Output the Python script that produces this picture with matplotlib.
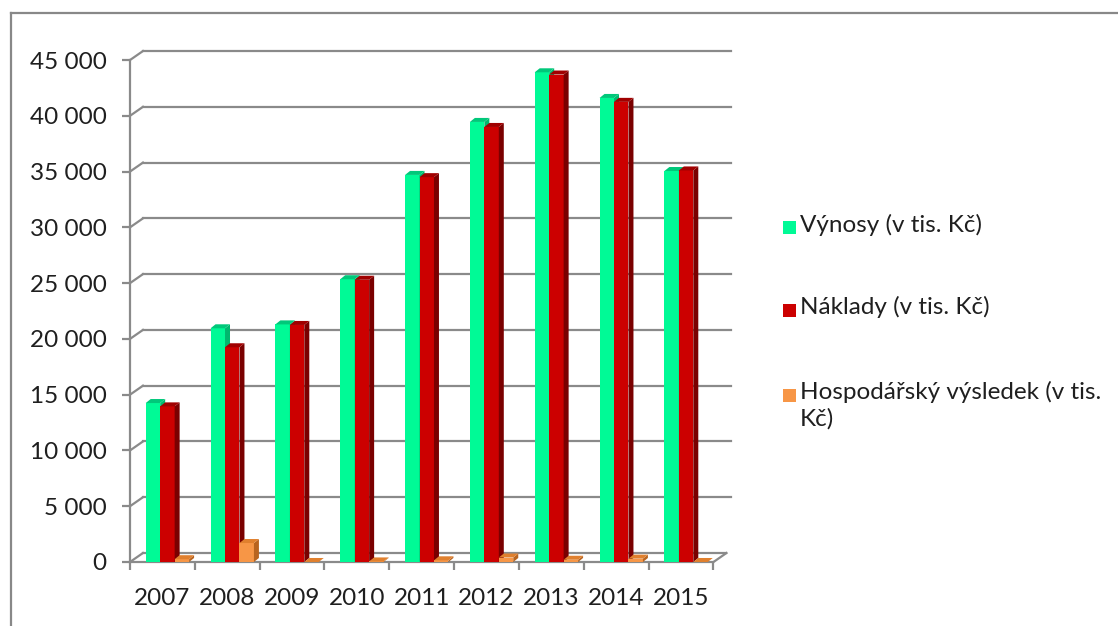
import matplotlib
matplotlib.use('Agg')
import matplotlib.pyplot as plt
import numpy as np
from matplotlib.patches import Polygon, Rectangle
from matplotlib.lines import Line2D

# data (v tis. Kč)
years = ['2007', '2008', '2009', '2010', '2011', '2012', '2013', '2014', '2015']
vynosy = [14250, 20950, 21300, 25350, 34700, 39450, 43900, 41600, 35050]
naklady = [13950, 19250, 21250, 25300, 34500, 39000, 43700, 41250, 35100]
hv = [250, 1700, 0, 50, 150, 400, 200, 300, 0]
names = ['Výnosy (v tis. Kč)', 'Náklady (v tis. Kč)', 'Hospodářský výsledek (v tis.\nKč)']
yticks = [0, 5000, 10000, 15000, 20000, 25000, 30000, 35000, 40000, 45000]
ylabels = ['0', '5 000', '10 000', '15 000', '20 000', '25 000', '30 000', '35 000', '40 000', '45 000']

face = ['#00FA96', '#CC0000', '#F79646']
side = ['#00B86E', '#7A0000', '#B8641F']
top = ['#00C87A', '#A00000', '#E0802E']

plt.rcParams['font.family'] = ['Lato', 'DejaVu Sans']
W, H = 1118, 626
fig = plt.figure(figsize=(W/100, H/100), dpi=100)
ax = fig.add_axes([130/W, 64/H, 601/W, 512/H])
ax.set_xlim(-0.5, 8.77)
ax.set_ylim(0, 45900)

gcol = '#8a8a8a'
wx, wy = 0.2, 807      # back wall offset
ddx, ddy = 0.077, 360  # bar depth

# back wall gridlines
for v in yticks:
    ax.plot([-0.5, -0.5+wx], [v, v+wy], color=gcol, lw=1.6, zorder=1, clip_on=False)
    xe = 8.5+wx if v == 0 else 8.77
    ax.plot([-0.5+wx, xe], [v+wy, v+wy], color=gcol, lw=1.6, zorder=1, clip_on=False)
ax.plot([8.5, 8.5+wx], [0, wy], color=gcol, lw=1.6, zorder=1, clip_on=False)

x = np.arange(len(years))
bw = 0.223
offs = [-0.146, 0.077, 0.300]
for k, vals in enumerate([vynosy, naklady, hv]):
    bars = ax.bar(x + offs[k], vals, width=bw, color=face[k], zorder=3+k, linewidth=0)
    for r in bars:
        x0, x1, h = r.get_x(), r.get_x()+r.get_width(), r.get_height()
        ax.add_patch(Polygon([(x1, 0), (x1+ddx, ddy), (x1+ddx, h+ddy), (x1, h)],
                             closed=True, color=side[k], lw=0, zorder=3+k))
        ax.add_patch(Polygon([(x0, h), (x0+ddx, h+ddy), (x1+ddx, h+ddy), (x1, h)],
                             closed=True, color=top[k], lw=0, zorder=3+k))

for s in ['top', 'right']:
    ax.spines[s].set_visible(False)
for s in ['left', 'bottom']:
    ax.spines[s].set_color(gcol)
    ax.spines[s].set_linewidth(1.6)
    ax.spines[s].set_zorder(2)
ax.spines['left'].set_bounds(0, 45000)
ax.spines['bottom'].set_bounds(-0.5, 8.5)

ax.set_yticks(yticks, ylabels)
ax.tick_params(axis='y', length=6, width=1.6, color=gcol, pad=11, labelsize=17.5, labelcolor='#1f1f1f')
ax.set_xticks(np.arange(-0.5, 9, 1.0))
ax.set_xticklabels([])
ax.set_xticks(x, minor=True)
ax.set_xticklabels(years, minor=True)
ax.tick_params(axis='x', which='major', length=6, width=1.6, color=gcol)
ax.tick_params(axis='x', which='minor', length=0, pad=19, labelsize=17.5, labelcolor='#1f1f1f')

# legend
ly = [228, 310, 395]
for k in range(3):
    fig.add_artist(Rectangle((783/W, 1-(ly[k]+6.5)/H), 13/W, 13/H, transform=fig.transFigure,
                             color=face[k], lw=0))
    fig.text(800/W, 1-(ly[k]-14)/H, names[k], fontsize=17.5, color='#1f1f1f',
             va='top', ha='left', linespacing=1.3)

# outer frame
fig.add_artist(Line2D([11/W, 11/W], [0, 1-13/H], transform=fig.transFigure, color='#888888', lw=1.6))
fig.add_artist(Line2D([11/W, 1], [1-13/H, 1-13/H], transform=fig.transFigure, color='#888888', lw=1.6))

fig.savefig('out.png', dpi=100)
